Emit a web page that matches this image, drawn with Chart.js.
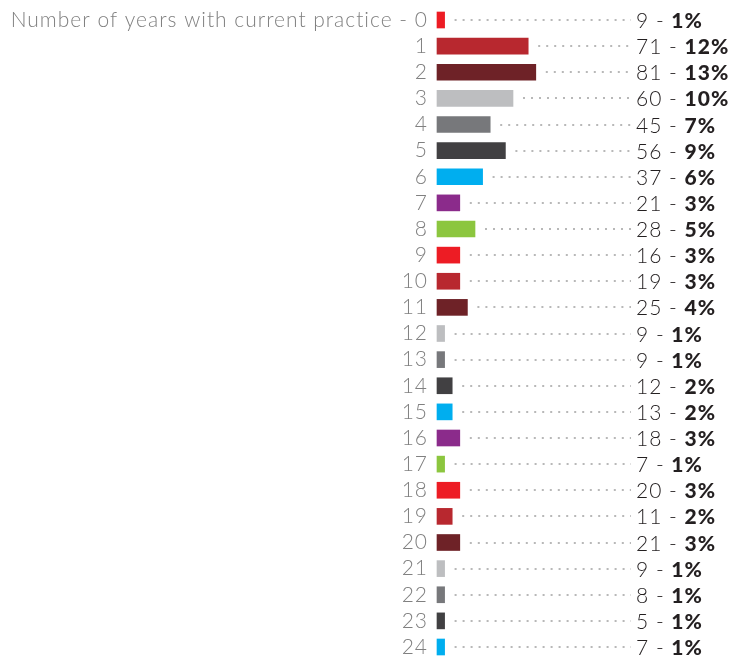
<!DOCTYPE html>
<html>
<head>
<meta charset="utf-8">
<script src="https://cdn.jsdelivr.net/npm/chart.js@4.4.1/dist/chart.umd.min.js"></script>
<style>
  html, body { margin: 0; padding: 0; background: #fff; }
  #wrap { position: relative; width: 736px; height: 657px; }
</style>
</head>
<body>
<div id="wrap"><canvas id="yearsChart"></canvas></div>
<script>
const axisTitle = 'Number of years with current practice';
const years = ['0', '1', '2', '3', '4', '5', '6', '7', '8', '9', '10', '11', '12',
    '13', '14', '15', '16', '17', '18', '19', '20', '21', '22', '23', '24'];
const counts = [9, 71, 81, 60, 45, 56, 37, 21, 28, 16, 19, 25, 9, 9, 12, 13, 18, 7, 20, 11, 21, 9, 8, 5, 7];
const percents = [1, 12, 13, 10, 7, 9, 6, 3, 5, 3, 3, 4, 1, 1, 2, 2, 3, 1, 3, 2, 3, 1, 1, 1, 1];
const palette = ['#ed1c24', '#b8282f', '#6e2227', '#bdbec0', '#77787b', '#414042', '#00aeef', '#8b2b8b', '#8cc63f'];

const fontFamily = 'Lato, "Open Sans", sans-serif';

// wider tracking, like the original typeface
const tracking = {
    id: 'tracking',
    beforeDraw(chart) {
        chart.ctx.letterSpacing = '1px';
    }
};

// dotted leader lines + "count - pct%" labels on the right
const leaderLabels = {
    id: 'leaderLabels',
    afterDatasetsDraw(chart) {
        const ctx = chart.ctx;
        const area = chart.chartArea;
        const meta = chart.getDatasetMeta(0);
        ctx.save();
        meta.data.forEach((bar, i) => {
            const y = Math.round(bar.y);
            ctx.strokeStyle = '#b8b8b8';
            ctx.lineWidth = 2;
            ctx.setLineDash([2, 6]);
            ctx.beginPath();
            ctx.moveTo(bar.x + 10, y);
            ctx.lineTo(area.right + 4, y);
            ctx.stroke();

            const first = counts[i] + ' - ';
            const second = percents[i] + '%';
            let x = area.right + 9;
            ctx.textBaseline = 'middle';
            ctx.textAlign = 'left';
            ctx.fillStyle = '#231f20';
            ctx.font = '300 21px ' + fontFamily;
            ctx.fillText(first, x, y + 1);
            x += ctx.measureText(first).width;
            ctx.font = '900 21px ' + fontFamily;
            ctx.fillText(second, x, y + 1);
        });
        ctx.restore();
    }
};

new Chart(document.getElementById('yearsChart').getContext('2d'), {
    type: 'bar',
    data: {
        labels: years,
        datasets: [{
            data: percents,
            backgroundColor: years.map((_, i) => palette[i % palette.length]),
            barThickness: 16,
            clip: false
        }]
    },
    options: {
        indexAxis: 'y',
        responsive: true,
        maintainAspectRatio: false,
        animation: false,
        layout: {
            padding: { top: 20, bottom: 10, right: 109, left: 0 }
        },
        scales: {
            x: {
                display: false,
                min: 0,
                max: 25
            },
            y: {
                offset: false,
                grid: { display: false },
                border: { display: false },
                afterFit(scale) {
                    scale.width = 437;
                    scale.paddingTop = 0;
                    scale.paddingBottom = 0;
                },
                ticks: {
                    autoSkip: false,
                    padding: 1,
                    color: '#808080',
                    font: { family: fontFamily, size: 21, weight: 300 },
                    callback: function (value, index) {
                        const label = this.getLabelForValue(value);
                        return index === 0 ? axisTitle + ' - ' + label : label;
                    }
                }
            }
        },
        plugins: {
            legend: { display: false },
            tooltip: { enabled: false }
        }
    },
    plugins: [tracking, leaderLabels]
});
</script>
</body>
</html>
